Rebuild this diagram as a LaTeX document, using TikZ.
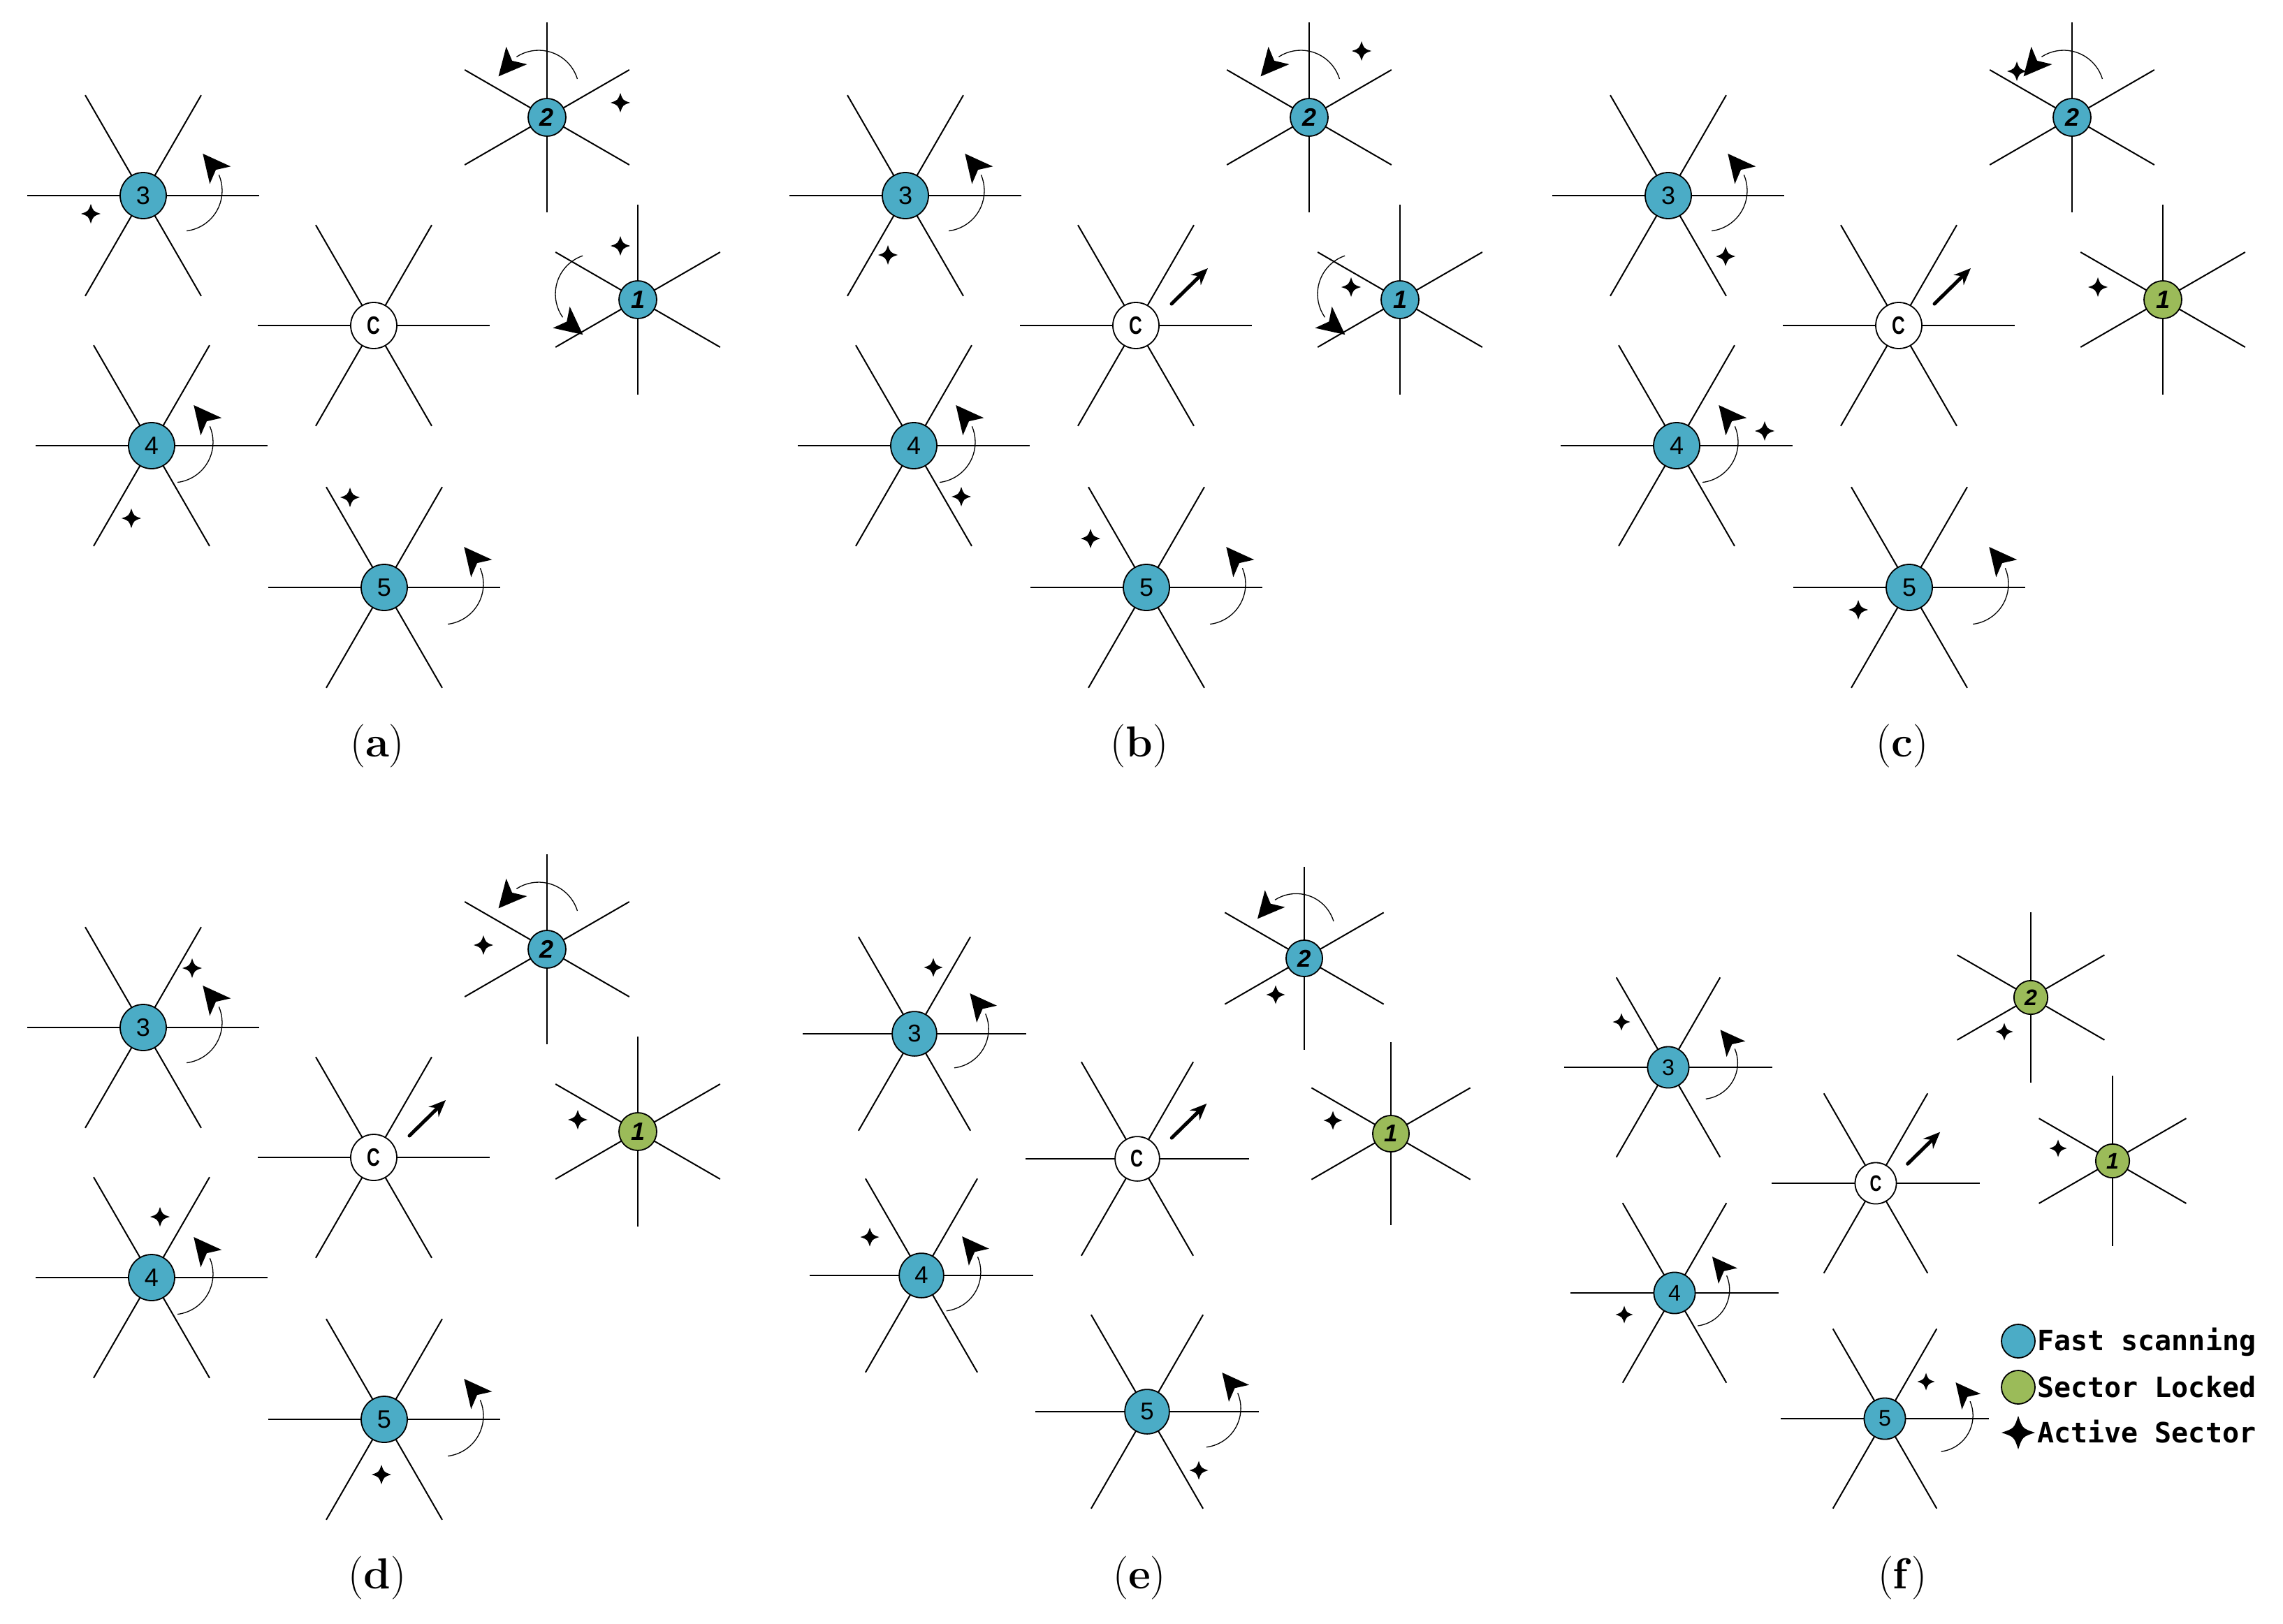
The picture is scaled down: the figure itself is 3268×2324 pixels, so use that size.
\documentclass[tikz,border=0pt]{standalone}
\usepackage{fontspec}
\newfontfamily\hubfont{Liberation Sans}
\newfontfamily\legfont{DejaVu Sans Mono}
\usetikzlibrary{arrows.meta}
\definecolor{scanblue}{HTML}{4BACC6}
\definecolor{lockgreen}{HTML}{9BBB59}
\tikzset{
  spoke/.style={line width=2pt, black},
  arcline/.style={line width=1.3pt},
  hubnode/.style={circle, draw, line width=1.8pt, inner sep=0pt, font=\hubfont\fontsize{36}{36}\selectfont},
  hubA/.style={hubnode, minimum size=66pt},
  hubB/.style={hubnode, minimum size=54pt},
  headarrow/.style={line width=5pt, line cap=round, -{Stealth[length=24pt, width=20pt]}},
  sublabel/.style={font=\fontsize{62}{62}\selectfont, inner sep=0pt},
  legtext/.style={font=\legfont\bfseries\fontsize{40}{40}\selectfont, anchor=base west, inner sep=0pt},
  legdot/.style={circle, draw, line width=1.8pt, minimum size=48pt, inner sep=0pt},
}
% hub with spokes at 0,60,...  #1 name #2 x #3 y #4 sx #5 sy #6 fill #7 label #8 extras
\newcommand\HubA[8]{%
  \begin{scope}[shift={(#2,-#3)}, xscale=#4, yscale=#5, transform shape]
    \foreach \ang in {0,60,...,300} \draw[spoke] (0,0) -- (\ang:166);
    \node[hubA, fill=#6] (#1) at (0,0) {#7};
    #8
  \end{scope}}
% hub with spokes at 30,90,...
\newcommand\HubB[8]{%
  \begin{scope}[shift={(#2,-#3)}, xscale=#4, yscale=#5, transform shape]
    \foreach \ang in {30,90,...,330} \draw[spoke] (0,0) -- (\ang:136);
    \node[hubB, fill=#6] (#1) at (0,0) {#7};
    #8
  \end{scope}}
% rotating arrow: arc centre (#1,#2), rotation #3
\newcommand\RotArr[3]{%
  \begin{scope}[shift={(#1,#2)}, rotate=#3]
    \draw[arcline] (-83:58) arc[start angle=-83, end angle=23, radius=58];
    \fill (30.3,53) -- (70.3,34.7) -- (49,29.9) -- (40.3,9.7) -- cycle;
  \end{scope}}
% straight arrow of the centre node
\newcommand\CArr[1]{%
  \coordinate (#1s) at (51,31);
  \coordinate (#1t) at (103,82);
  \draw[headarrow] (#1s) -- (#1t);}
% active-sector star  #1 x #2 y #3 sx #4 sy #5 radius
\newcommand\SStar[5]{%
  \begin{scope}[shift={(#1,-#2)}, xscale=#3, yscale=#4]
    \fill (0,#5) .. controls (0.25*#5,0.25*#5) .. (#5,0)
      .. controls (0.25*#5,-0.25*#5) .. (0,-#5)
      .. controls (-0.25*#5,-0.25*#5) .. (-#5,0)
      .. controls (-0.25*#5,0.25*#5) .. (0,#5) -- cycle;
  \end{scope}}
\newcommand\Lbl[1]{\hubfont\bfseries\itshape #1}
\newcommand\Cl{\scalebox{0.72}[1]{\bfseries C}}
\begin{document}
\begin{tikzpicture}[x=1pt, y=1pt]
\useasboundingbox (0,0) rectangle (3268,-2324);
\fill[white] (0,0) rectangle (3268,-2324);

% ---------------- panel (a)
\HubA{a3}{205}{280}{1}{1}{scanblue}{3}{\RotArr{55}{7}{0}}
\HubB{a2}{783}{168}{1}{1}{scanblue}{\Lbl{2}}{\RotArr{-12}{38}{100}}
\HubB{a1}{913}{429}{1}{1}{scanblue}{\Lbl{1}}{\RotArr{-60}{8}{192}}
\HubA{ac}{535}{466}{1}{1}{white}{\Cl}{}
\HubA{a4}{217}{638}{1}{1}{scanblue}{4}{\RotArr{30}{5}{0}}
\HubA{a5}{550}{841}{1}{1}{scanblue}{5}{\RotArr{84}{5}{0}}
\SStar{130}{306}{1}{1}{14}
\SStar{888}{147}{1}{1}{14}
\SStar{888}{352}{1}{1}{14}
\SStar{188}{742}{1}{1}{14}
\SStar{501}{712}{1}{1}{14}
\node[sublabel] (la) at (540,-1068) {(\textbf{a})};

% ---------------- panel (b)
\HubA{b3}{1296}{280}{1}{1}{scanblue}{3}{\RotArr{55}{7}{0}}
\HubB{b2}{1874}{168}{1}{1}{scanblue}{\Lbl{2}}{\RotArr{-12}{38}{100}}
\HubB{b1}{2004}{429}{1}{1}{scanblue}{\Lbl{1}}{\RotArr{-60}{8}{192}}
\HubA{bc}{1626}{466}{1}{1}{white}{\Cl}{\CArr{bc}}
\HubA{b4}{1308}{638}{1}{1}{scanblue}{4}{\RotArr{30}{5}{0}}
\HubA{b5}{1641}{841}{1}{1}{scanblue}{5}{\RotArr{84}{5}{0}}
\SStar{1271}{365}{1}{1}{14}
\SStar{1949}{73}{1}{1}{14}
\SStar{1934}{411}{1}{1}{14}
\SStar{1376}{711}{1}{1}{14}
\SStar{1561}{771}{1}{1}{14}
\node[sublabel] (lb) at (1631,-1068) {(\textbf{b})};

% ---------------- panel (c)
\HubA{c3}{2388}{280}{1}{1}{scanblue}{3}{\RotArr{55}{7}{0}}
\HubB{c2}{2966}{168}{1}{1}{scanblue}{\Lbl{2}}{\RotArr{-12}{38}{100}}
\HubB{c1}{3096}{429}{1}{1}{lockgreen}{\Lbl{1}}{}
\HubA{cc}{2718}{466}{1}{1}{white}{\Cl}{\CArr{cc}}
\HubA{c4}{2400}{638}{1}{1}{scanblue}{4}{\RotArr{30}{5}{0}}
\HubA{c5}{2733}{841}{1}{1}{scanblue}{5}{\RotArr{84}{5}{0}}
\SStar{2470}{367}{1}{1}{14}
\SStar{2887}{102}{1}{1}{14}
\SStar{3003}{411}{1}{1}{14}
\SStar{2526}{617}{1}{1}{14}
\SStar{2660}{873}{1}{1}{14}
\node[sublabel] (lc) at (2723,-1068) {(\textbf{c})};

% ---------------- panel (d)
\HubA{d3}{205}{1471}{1}{1}{scanblue}{3}{\RotArr{55}{7}{0}}
\HubB{d2}{783}{1359}{1}{1}{scanblue}{\Lbl{2}}{\RotArr{-12}{38}{100}}
\HubB{d1}{913}{1620}{1}{1}{lockgreen}{\Lbl{1}}{}
\HubA{dc}{535}{1657}{1}{1}{white}{\Cl}{\CArr{dc}}
\HubA{d4}{217}{1829}{1}{1}{scanblue}{4}{\RotArr{30}{5}{0}}
\HubA{d5}{550}{2032}{1}{1}{scanblue}{5}{\RotArr{84}{5}{0}}
\SStar{275}{1386}{1}{1}{14}
\SStar{692}{1353}{1}{1}{14}
\SStar{827}{1603}{1}{1}{14}
\SStar{229}{1742}{1}{1}{14}
\SStar{546}{2111}{1}{1}{14}
\node[sublabel] (ld) at (540,-2259) {(\textbf{d})};

% ---------------- panel (e)
\HubA{e3}{1309}{1480}{0.965}{0.965}{scanblue}{3}{\RotArr{52}{7}{0}}
\HubB{e2}{1867}{1372}{0.965}{0.965}{scanblue}{\Lbl{2}}{\RotArr{-12}{38}{100}}
\HubB{e1}{1991}{1623}{0.965}{0.965}{lockgreen}{\Lbl{1}}{}
\HubA{ec}{1628}{1659}{0.965}{0.965}{white}{\Cl}{\CArr{ec}}
\HubA{e4}{1319}{1826}{0.965}{0.965}{scanblue}{4}{\RotArr{30}{5}{0}}
\HubA{e5}{1642}{2021}{0.965}{0.965}{scanblue}{5}{\RotArr{81}{5}{0}}
\SStar{1336}{1385}{0.965}{0.965}{14}
\SStar{1826}{1424}{0.965}{0.965}{14}
\SStar{1908}{1604}{0.965}{0.965}{14}
\SStar{1245}{1771}{0.965}{0.965}{14}
\SStar{1716}{2105}{0.965}{0.965}{14}
\node[sublabel] (le) at (1631,-2259) {(\textbf{e})};

% ---------------- panel (f)
\HubA{f3}{2388}{1528}{0.895}{0.895}{scanblue}{3}{\RotArr{53}{7}{0}}
\HubB{f2}{2907}{1428}{0.895}{0.895}{lockgreen}{\Lbl{2}}{}
\HubA{fc}{2685}{1694}{0.895}{0.895}{white}{\Cl}{\CArr{fc}}
\HubB{f1}{3024}{1662}{0.895}{0.895}{lockgreen}{\Lbl{1}}{}
\HubA{f4}{2397}{1851}{0.895}{0.895}{scanblue}{4}{\RotArr{30}{5}{0}}
\HubA{f5}{2698}{2031}{0.895}{0.895}{scanblue}{5}{\RotArr{83}{5}{0}}
\SStar{2321}{1463}{0.895}{0.895}{14}
\SStar{2869}{1477}{0.895}{0.895}{14}
\SStar{2946}{1644}{0.895}{0.895}{14}
\SStar{2325}{1882}{0.895}{0.895}{14}
\SStar{2757}{1978}{0.895}{0.895}{14}
\node[sublabel] (lf) at (2723,-2259) {(\textbf{f})};

% ---------------- legend
\node[legdot, fill=scanblue] (ldot1) at (2889,-1920) {};
\node[legdot, fill=lockgreen] (ldot2) at (2889,-1986) {};
\SStar{2889}{2051}{1}{1}{24}
\node[legtext] (lt1) at (2916,-1933) {Fast scanning};
\node[legtext] (lt2) at (2916,-2000) {Sector Locked};
\node[legtext] (lt3) at (2916,-2065) {Active Sector};
\end{tikzpicture}
\end{document}
